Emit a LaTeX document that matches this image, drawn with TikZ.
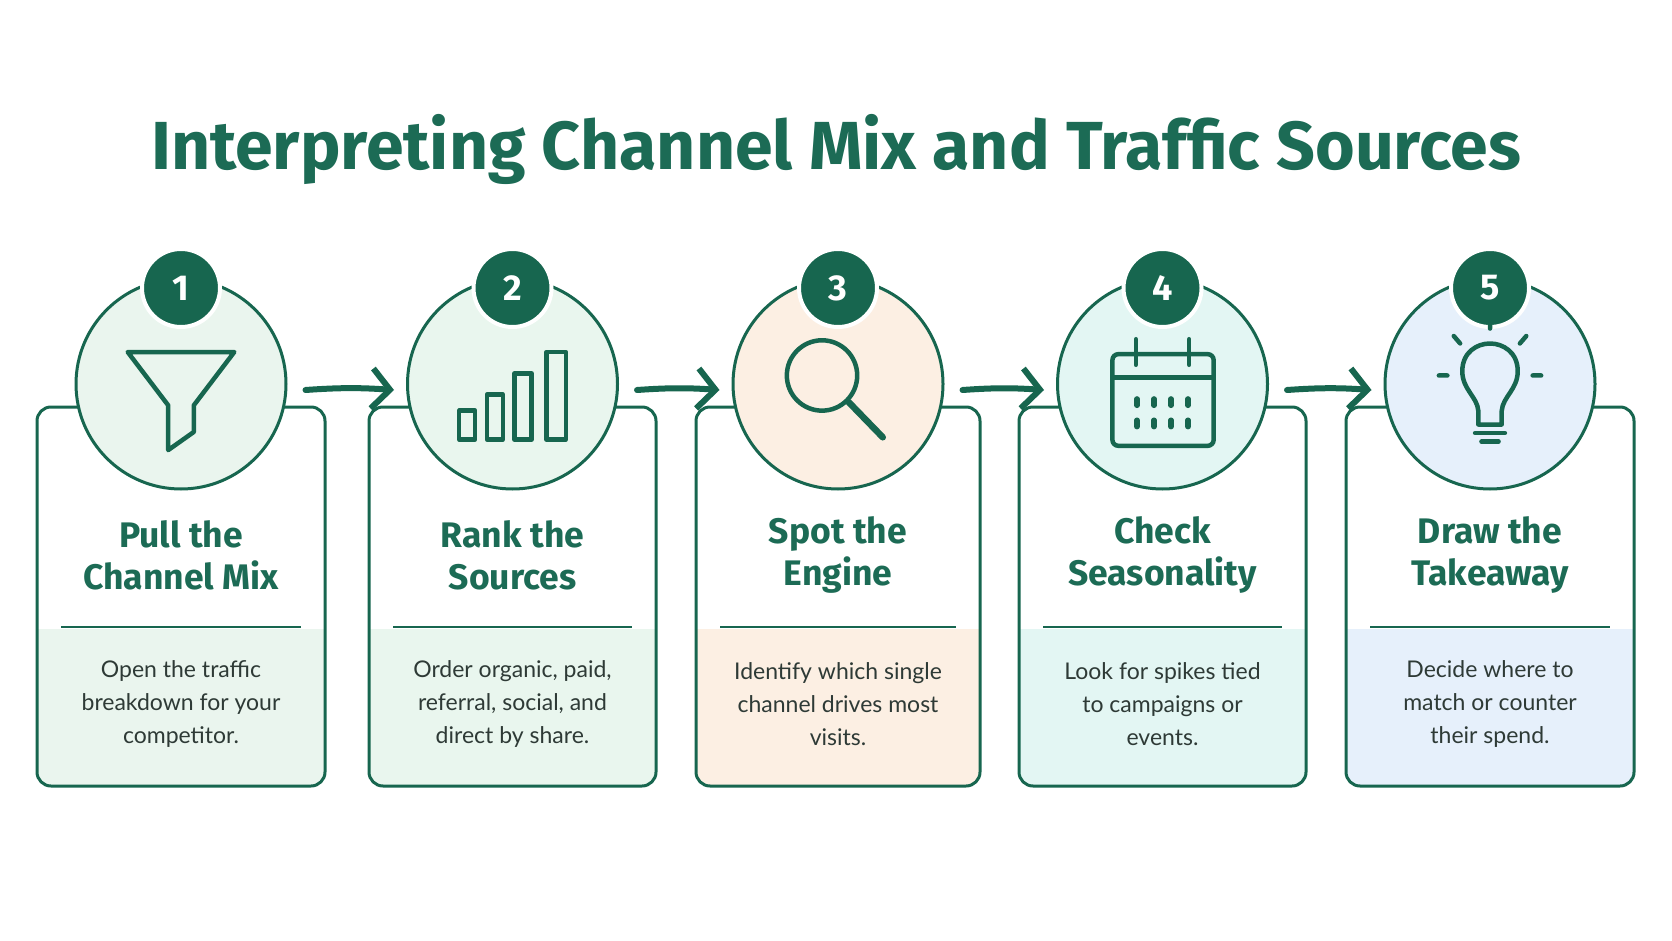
\documentclass[tikz,border=0pt]{standalone}
\usepackage{fontspec}
\usetikzlibrary{arrows.meta}
\setmainfont{Lato}
\newfontfamily\headfont{Fira Sans}
\definecolor{dg}{HTML}{17664F}
\definecolor{tg}{HTML}{1C6B55}
\definecolor{fA}{HTML}{EAF5EE}
\definecolor{fB}{HTML}{E9F6EE}
\definecolor{fC}{HTML}{FCEFE3}
\definecolor{fD}{HTML}{E3F6F3}
\definecolor{fE}{HTML}{E6F0FB}
\definecolor{txt}{HTML}{2E3A36}
\begin{document}
\begin{tikzpicture}[x=1pt,y=-1pt,
  card/.style={draw=dg,line width=3pt,rounded corners=14pt},
  ring/.style={circle,draw=dg,line width=3pt,minimum size=210pt,inner sep=0pt},
  badge/.style={circle,fill=dg,draw=white,line width=4pt,minimum size=78pt,inner sep=0pt,text=white,font=\headfont\bfseries\fontsize{36}{40}\selectfont},
  head/.style={align=center,text=tg,font=\headfont\bfseries\fontsize{35.5}{42}\selectfont},
  desc/.style={align=center,text=txt,font=\fontsize{23}{33}\selectfont},
  ico/.style={draw=dg,line width=4.5pt,line join=round,line cap=round},
  arr/.style={draw=dg,line width=6pt,line cap=round,-{Straight Barb[length=18pt,width=40pt,line width=6pt]}}]
\useasboundingbox (0,0) rectangle (1672,941);
\fill[white] (0,0) rectangle (1672,941);
\node[text=tg,font=\headfont\bfseries\fontsize{68}{74}\selectfont] (title) at (836,149) {Interpreting Channel Mix and Traffic Sources};
\foreach \i/\l/\r/\f/\h/\d in {
 1/37/325/fA/{Pull the\\Channel Mix}/{Open the traffic\\breakdown for your\\competitor.},
 2/369/656/fB/{Rank the\\Sources}/{Order organic, paid,\\referral, social, and\\direct by share.},
 3/696/980/fC/{Spot the\\Engine}/{Identify which single\\channel drives most\\visits.},
 4/1019/1306/fD/{Check\\Seasonality}/{Look for spikes tied\\to campaigns or\\events.},
 5/1346/1634/fE/{Draw the\\Takeaway}/{Decide where to\\match or counter\\their spend.}}{
  \pgfmathsetmacro\cx{(\l+\r)/2}
  \begin{scope}
   \clip (\l-5,629) rectangle (\r+5,800);
   \fill[\f,rounded corners=14pt] (\l,407) rectangle (\r,786);
  \end{scope}
  \draw[card] (\l,407) rectangle (\r,786);
  \coordinate (c\i) at (\cx,384);
  \node[ring,fill=\f] (ring\i) at (c\i) {};
  \node[badge] (b\i) at (\cx,288) {\i};
  \node[head] (h\i) at (\cx,555) {\h};
  \draw[dg,line width=2.4pt] (\l+24,627) -- (\r-24,627);
  \node[desc] (d\i) at (\cx,704) {\d};
}
\begin{scope}[shift={(c1)},scale=1.066]
 \draw[ico] (-50,-30) -- (50,-30) -- (12,20) -- (12,45) -- (-12,62) -- (-12,20) -- cycle;
\end{scope}
\begin{scope}[shift={(c2)},scale=1.066]
 \draw[ico] (-50,25) rectangle (-35,52) (-24,10) rectangle (-9,52) (2,-10) rectangle (18,52) (32,-30) rectangle (50,52);
\end{scope}
\begin{scope}[shift={(c3)},scale=1.066]
 \draw[ico] (-15,-8) circle (33);
 \draw[ico,line width=6.5pt] (10,17) -- (42,50);
\end{scope}
\begin{scope}[shift={(c4)},scale=1.066]
 \draw[ico,rounded corners=6pt] (-47,-28) rectangle (48,58);
 \draw[ico] (-47,-6) -- (48,-6) (-25,-42) -- (-25,-18) (25,-42) -- (25,-18);
 \foreach \x in {-24,-8,8,24} \foreach \y in {17,37} \draw[ico,line width=5.5pt] (\x,\y-3) -- (\x,\y+3);
\end{scope}
\begin{scope}[shift={(c5)},scale=1.066]
 \draw[ico] (-11,38) -- (-11,25) .. controls (-12,12) and (-26,5) .. (-26,-12) .. controls (-26,-30) and (-12,-38) .. (0,-38) .. controls (12,-38) and (26,-30) .. (26,-12) .. controls (26,5) and (12,12) .. (11,25) -- (11,38) -- cycle;
 \draw[ico] (-14,46) -- (14,46) (-8,54) -- (8,54);
 \draw[ico] (0,-62) -- (0,-52) (-34,-45) -- (-28,-38) (34,-45) -- (28,-38) (-48,-8) -- (-40,-8) (48,-8) -- (40,-8);
\end{scope}
\foreach \a/\b in {1/2,2/3,3/4,4/5}{
 \draw[arr] ([xshift=18pt,yshift=-6pt]ring\a.east) to[bend left=4] ([xshift=-12pt,yshift=-6pt]ring\b.west);
}
\end{tikzpicture}
\end{document}
